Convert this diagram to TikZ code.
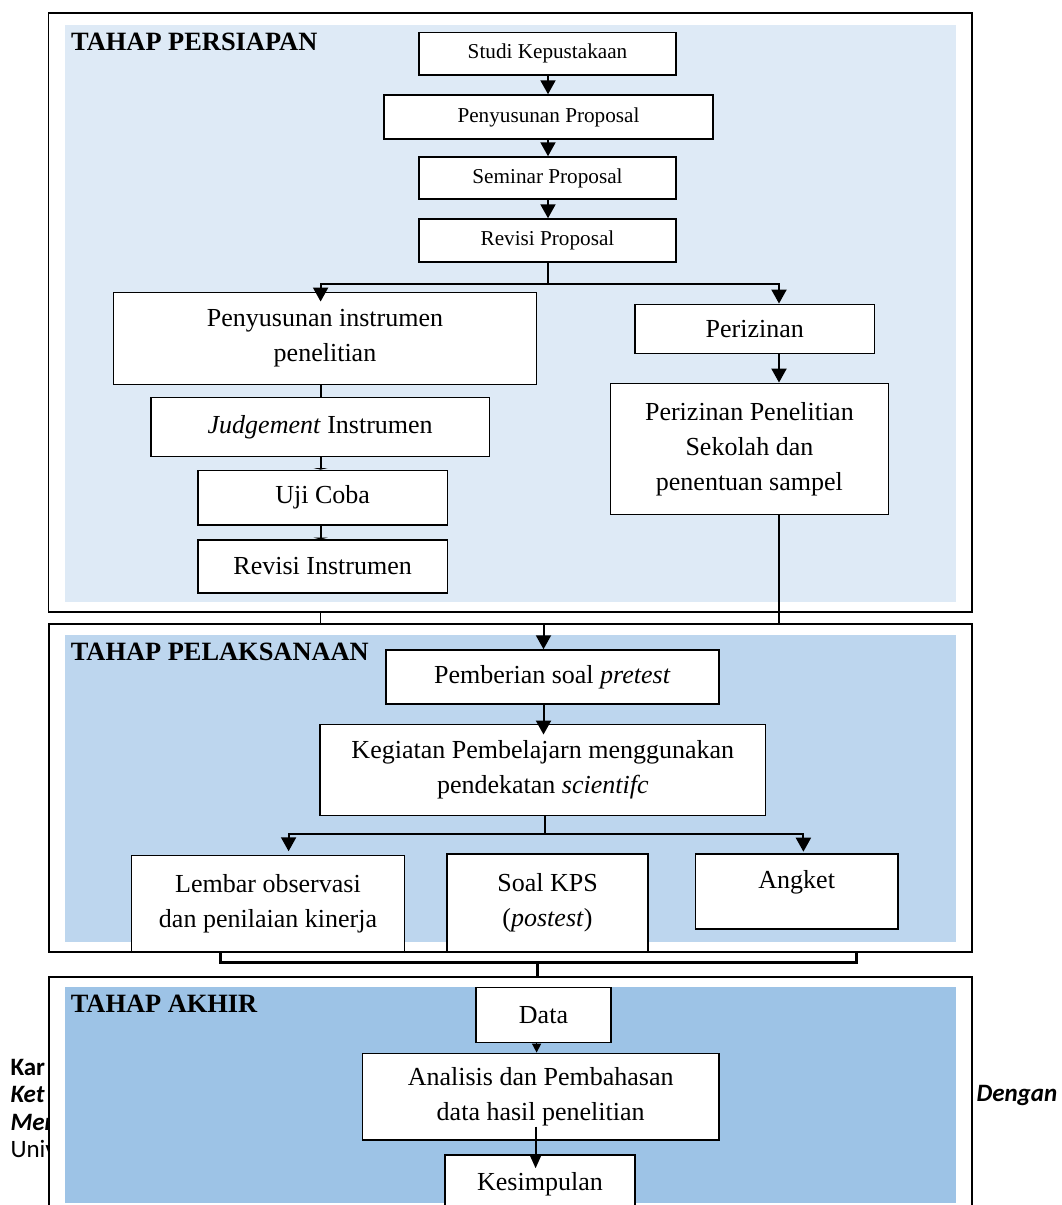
\documentclass[tikz,border=0pt]{standalone}
\usepackage{fontspec}
\setmainfont{Liberation Serif}
\newfontfamily\strayfont{Carlito}
\usetikzlibrary{arrows.meta}
\pgfdeclarelayer{under}
\pgfdeclarelayer{frames}
\pgfsetlayers{under,frames,main}
\definecolor{bgA}{HTML}{DEEAF6}
\definecolor{bgB}{HTML}{BDD6EE}
\definecolor{bgC}{HTML}{9DC3E6}
\tikzset{
  box/.style={draw, line width=1.5pt, fill=white, inner sep=0pt, align=center},
  small/.style={font=\fontsize{21.2}{26}\selectfont},
  big/.style={font=\fontsize{26}{35}\selectfont},
  title/.style={font=\fontsize{26.4}{30}\selectfont\bfseries, inner sep=0pt, anchor=base west},
  frame/.style={draw, line width=1.7pt, fill=white},
  conn/.style={line width=2pt},
  thinconn/.style={line width=1.2pt},
  thickconn/.style={line width=2.6pt, line join=miter},
  arr/.style={conn, -{Triangle[width=15pt,length=14pt]}},
  arrS/.style={line width=1.5pt, -{Triangle[width=9pt,length=9pt]}},
  arrM/.style={conn, -{Triangle[width=11pt,length=13pt]}},
  tick/.style={conn, -{Triangle[width=14pt,length=1.6pt]}},
  stray/.style={font=\strayfont\fontsize{25}{27}\selectfont, inner sep=0pt, anchor=base west}
}
\begin{document}
\begin{tikzpicture}[x=1pt,y=-1pt]
\useasboundingbox (0,0) rectangle (1062,1205);

% columns and junctions
\coordinate (colT) at (548,0);
\coordinate (colL) at (320.6,0);
\coordinate (colR) at (779,0);
\coordinate (b1) at (548,283.5);
\coordinate (j2) at (543.5,624);
\coordinate (b2) at (545.2,834.3);
\coordinate (colLem) at (288.6,0);
\coordinate (colAng) at (803.4,0);
\coordinate (cL) at (220.4,0);
\coordinate (cR) at (856.3,962.3);
\coordinate (cRtop) at (856.3,951.7);
\coordinate (c5) at (537.5,962.3);
\coordinate (colD) at (536.6,0);
\coordinate (colK) at (535.6,0);

% frames
\begin{pgfonlayer}{frames}
\draw[frame] (48.6,13.3) rectangle (972.1,611.7);
\fill[bgA] (65.1,25) rectangle (955.5,601.7);
\draw[frame] (48.9,624) rectangle (972.1,951.7);
\fill[bgB] (65.4,635) rectangle (955.5,941.7);
\draw[frame] (49,976.7) rectangle (972.1,1240);
\fill[bgC] (65,987.3) rectangle (955.5,1202.7);
\end{pgfonlayer}

% stray page text behind the diagram
\begin{pgfonlayer}{under}
\node[stray] (s1) at (10.3,1075) {\bfseries Kar};
\node[stray] (s2) at (10.3,1102.3) {\bfseries\itshape Ket};
\node[stray] (s3) at (10.3,1130) {\bfseries\itshape Mer};
\node[stray] (s4) at (10.3,1157.3) {Univ};
\end{pgfonlayer}
\node[stray] (s5) at (976.3,1101.7) {\bfseries\itshape Dengan};

% titles
\node[title] (t1) at (71,50) {TAHAP PERSIAPAN};
\node[title] (t2) at (70.6,660) {TAHAP PELAKSANAAN};
\node[title] (t3) at (70.6,1012.7) {TAHAP AKHIR};

% section 1
\node[box,small,minimum width=257,minimum height=42.7] (studi) at (547.5,53.7) {Studi Kepustakaan};
\node[box,small,minimum width=329,minimum height=44] (penprop) at (548.5,117) {Penyusunan Proposal};
\node[box,small,minimum width=257,minimum height=42] (seminar) at (547.5,178) {Seminar Proposal};
\node[box,small,minimum width=257,minimum height=43] (revprop) at (547.5,240.5) {Revisi Proposal};
\node[box,big,minimum width=423.3,minimum height=92] (penins) at (325,338.3) {Penyusunan instrumen\\penelitian};
\node[box,big,minimum width=338.5,minimum height=59] (judge) at (320.2,427.2) {\textit{Judgement} Instrumen};
\node[box,big,minimum width=249.7,minimum height=54.7] (uji) at (322.6,497.7) {Uji Coba};
\node[box,big,minimum width=249.7,minimum height=52.7] (revins) at (322.6,566.4) {Revisi Instrumen};
\node[box,big,minimum width=239.3,minimum height=49] (izin) at (754.7,328.8) {Perizinan};
\node[box,big,minimum width=278.3,minimum height=131] (pp) at (749.4,448.8) {Perizinan Penelitian\\Sekolah dan\\penentuan sampel};

% section 2
\node[box,big,minimum width=333.1,minimum height=54] (pretest) at (552.3,677) {Pemberian soal \textit{pretest}};
\node[box,big,minimum width=445.2,minimum height=91.4] (keg) at (542.8,770) {Kegiatan Pembelajarn menggunakan\\pendekatan \textit{scientifc}};
\node[box,big,minimum width=273.1,minimum height=96] (lembar) at (268,903.7) {Lembar observasi\\dan penilaian kinerja};
\node[box,big,minimum width=201,minimum height=97.7] (kps) at (547.5,902.9) {Soal KPS\\(\textit{postest})};
\node[box,big,minimum width=202.2,inner ysep=0pt,text height=34.7pt,text depth=40.3pt,anchor=north] (angket) at (796.7,853.3) {Angket};

% section 3
\node[box,big,minimum width=134.7,minimum height=55] (data) at (543.5,1014.8) {Data};
\node[box,big,minimum width=356.2,minimum height=86.7] (ana) at (540.7,1096.7) {Analisis dan Pembahasan\\data hasil penelitian};
\node[box,big,minimum width=190,inner ysep=0pt,text height=36pt,text depth=50pt,anchor=north] (kes) at (540,1154) {Kesimpulan};

% connectors section 1
\draw[arr] (studi.south -| colT) -- (penprop.north -| colT);
\draw[arr] (penprop.south -| colT) -- (seminar.north -| colT);
\draw[arr] (seminar.south -| colT) -- (revprop.north -| colT);
\draw[conn] (revprop.south -| b1) -- (b1);
\draw[arr, shorten >=-10pt] (b1) -| (penins.north -| colL);
\draw[arr] (b1) -| (izin.north -| colR);
\draw[conn] (penins.south -| colL) -- (judge.north -| colL);
\draw[tick] (judge.south -| colL) -- (uji.north -| colL);
\draw[tick] (uji.south -| colL) -- (revins.north -| colL);
\draw[arr] (izin.south -| colR) -- (pp.north -| colR);
\draw[thinconn] (pp.south -| colR) |- (j2);
\begin{pgfonlayer}{under}
\draw[thinconn] (revins.south -| colL) |- (j2);
\draw[thickconn] (c5) -- (data.north -| c5);
\end{pgfonlayer}

% connectors section 2
\draw[arr] (j2) -- (pretest.north -| j2);
\draw[arr, shorten >=-11pt] (pretest.south -| j2) -- (keg.north -| j2);
\draw[conn] (keg.south -| b2) -- (b2);
\draw[arr, shorten >=3.7pt] (b2) -| (lembar.north -| colLem);
\draw[arr, shorten >=1.6pt] (b2) -| (angket.north -| colAng);
\draw[thickconn] (lembar.south -| cL) |- (cR) -- (cRtop);

% connectors section 3
\draw[arrS] (data.south -| colD) -- (ana.north -| colD);
\draw[arrM, shorten <=-14.3pt, shorten >=-14.3pt] (ana.south -| colK) -- (kes.north -| colK);
\end{tikzpicture}
\end{document}
